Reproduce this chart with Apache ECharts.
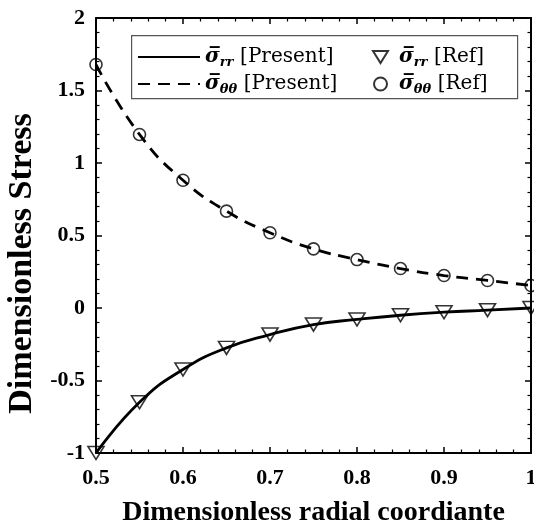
<!DOCTYPE html>
<html>
<head>
<meta charset="utf-8">
<script src="https://cdn.jsdelivr.net/npm/echarts@6/dist/echarts.min.js"></script>
<style>html,body{margin:0;padding:0;background:#fff}#c{width:534px;height:527px}</style>
</head>
<body>
<div id="c"></div>
<script>
const radial = [0.5, 0.55, 0.6, 0.65, 0.7, 0.75, 0.8, 0.85, 0.9, 0.95, 1.0];
const sigmaRRPresent = [-1.0, -0.65, -0.424, -0.275, -0.183, -0.114, -0.079, -0.050, -0.029, -0.015, 0.0];
const sigmaTTPresent = [1.679, 1.197, 0.881, 0.668, 0.519, 0.408, 0.334, 0.272, 0.224, 0.190, 0.155];
const sigmaRRRef = [-1.0, -0.65, -0.424, -0.275, -0.183, -0.114, -0.079, -0.050, -0.029, -0.015, 0.0];
const sigmaTTRef = [1.679, 1.197, 0.881, 0.668, 0.519, 0.408, 0.334, 0.272, 0.224, 0.190, 0.155];
const xTicks = [0.5, 0.6, 0.7, 0.8, 0.9, 1];
const yTicks = [-1, -0.5, 0, 0.5, 1, 1.5, 2];

const pairs = (ys) => radial.map((x, i) => [x, ys[i]]);
const serif = '"Liberation Serif", "Times New Roman", serif';
const lserif = '"DejaVu Serif", serif';
const labelStyle = { fontFamily: serif, fontWeight: 'bold', fontSize: 22, color: '#000' };
const downTriangle = 'path://M0,0 L16,0 L8,13 Z';

const legendRich = {
  s: { fontFamily: lserif, fontWeight: 'bold', fontStyle: 'italic', fontSize: 20, color: '#000', lineHeight: 24, verticalAlign: 'middle' },
  s2: { fontFamily: lserif, fontWeight: 'bold', fontStyle: 'italic', fontSize: 20, color: '#000', lineHeight: 24, verticalAlign: 'middle', padding: [0, 0, 0, 6] },
  sub: { fontFamily: lserif, fontStyle: 'italic', fontWeight: 'bold', fontSize: 13, color: '#000', lineHeight: 14, verticalAlign: 'bottom' },
  t: { fontFamily: lserif, fontSize: 20, color: '#000', lineHeight: 24, verticalAlign: 'middle' }
};
const legendText = {
  'rrP': '{s|σ\u0305}{sub|rr}  {t|[Present]}',
  'ttP': '{s|σ\u0305}{sub|θθ}  {t|[Present]}',
  'rrR': '{s2|σ\u0305}{sub|rr}  {t|[Ref]}',
  'ttR': '{s2|σ\u0305}{sub|θθ}  {t|[Ref]}'
};

const axisCommon = {
  axisLine: { show: true, onZero: false, lineStyle: { color: '#000', width: 2 } },
  axisTick: { show: true, inside: true, length: 6, lineStyle: { color: '#000', width: 1.5 } },
  minorTick: { show: true, splitNumber: 5, length: 3.5, lineStyle: { color: '#000', width: 1.2 } },
  splitLine: { show: false }
};

const chart = echarts.init(document.getElementById('c'));
chart.setOption({
  animation: false,
  backgroundColor: '#fff',
  grid: { left: 96, top: 18, width: 435, height: 435, containLabel: false, outerBoundsMode: 'none' },
  xAxis: [
    Object.assign({
      type: 'value', min: xTicks[0], max: xTicks[xTicks.length - 1], interval: 0.1,
      name: 'Dimensionless radial coordiante', nameLocation: 'middle', nameGap: 46,
      nameTextStyle: { fontFamily: serif, fontWeight: 'bold', fontSize: 28, color: '#000' },
      axisLabel: Object.assign({ margin: 14 }, labelStyle)
    }, axisCommon),
    Object.assign({
      type: 'value', position: 'top', min: xTicks[0], max: xTicks[xTicks.length - 1], interval: 0.1,
      axisLabel: { show: false }
    }, axisCommon)
  ],
  yAxis: [
    Object.assign({
      type: 'value', min: yTicks[0], max: yTicks[yTicks.length - 1], interval: 0.5,
      name: 'Dimensionless Stress', nameLocation: 'middle', nameGap: 52,
      nameTextStyle: { fontFamily: serif, fontWeight: 'bold', fontSize: 34, color: '#000', padding: [0, 56, 0, 0] },
      axisLabel: Object.assign({ margin: 11 }, labelStyle)
    }, axisCommon),
    Object.assign({
      type: 'value', position: 'right', min: yTicks[0], max: yTicks[yTicks.length - 1], interval: 0.5,
      axisLabel: { show: false }
    }, axisCommon)
  ],
  graphic: [{
    type: 'rect', left: 131, top: 35, z: 10,
    shape: { width: 386, height: 63 },
    style: { fill: '#fff', stroke: '#555', lineWidth: 1.2 }
  }],
  legend: [
    {
      data: ['rrP', 'ttP'], orient: 'vertical', left: 137, top: 47, padding: 0, itemWidth: 62, itemHeight: 14,
      itemGap: 5, z: 20, formatter: n => legendText[n], textStyle: { rich: legendRich }, selectedMode: false,
      itemStyle: { opacity: 0 }
    },
    {
      data: ['rrR', 'ttR'], orient: 'vertical', left: 372, top: 47, padding: 0,
      itemWidth: 15, itemHeight: 13,
      itemGap: 5, z: 20, formatter: n => legendText[n], textStyle: { rich: legendRich }, selectedMode: false
    }
  ],
  series: [
    {
      name: 'rrP', type: 'line', data: pairs(sigmaRRPresent), smooth: true,
      symbol: 'none', lineStyle: { color: '#000', width: 2.8, type: 'solid' }, itemStyle: { color: '#000' }, z: 3
    },
    {
      name: 'ttP', type: 'line', data: pairs(sigmaTTPresent), smooth: true,
      symbol: 'none', lineStyle: { color: '#000', width: 2.8, type: [12, 8] }, itemStyle: { color: '#000' }, z: 3
    },
    {
      name: 'rrR', type: 'scatter', data: pairs(sigmaRRRef), symbol: downTriangle,
      symbolSize: [16, 13], itemStyle: { color: 'rgba(255,255,255,0)', borderColor: '#000', borderWidth: 1.6 }, z: 4
    },
    {
      name: 'ttR', type: 'scatter', data: pairs(sigmaTTRef), symbol: 'circle',
      symbolSize: 12, itemStyle: { color: 'rgba(255,255,255,0)', borderColor: '#000', borderWidth: 1.6 }, z: 4
    }
  ]
});
</script>
</body>
</html>
